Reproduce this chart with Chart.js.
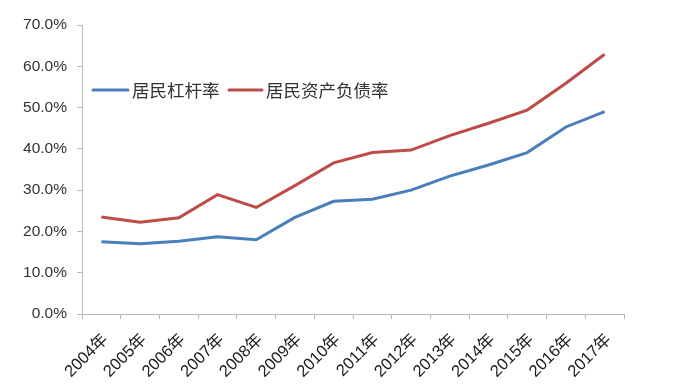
<!DOCTYPE html>
<html>
<head>
<meta charset="utf-8">
<script src="https://cdn.jsdelivr.net/npm/chart.js@4/dist/chart.umd.min.js"></script>
<style>
html,body{margin:0;padding:0;background:#fff;}
#wrap{width:690px;height:392px;position:relative;}
</style>
</head>
<body>
<div id="wrap"><canvas id="c" width="690" height="392"></canvas></div>
<script>
const years = ['2004年','2005年','2006年','2007年','2008年','2009年','2010年','2011年','2012年','2013年','2014年','2015年','2016年','2017年'];
const leverage = [17.5, 17.0, 17.6, 18.7, 18.0, 23.4, 27.3, 27.8, 30.0, 33.4, 36.1, 39.1, 45.3, 49.0];
const debtRatio = [23.5, 22.2, 23.3, 28.9, 25.8, 31.1, 36.6, 39.1, 39.7, 43.2, 46.2, 49.4, 55.9, 62.9];
const seriesNames = ['居民杠杆率','居民资产负债率'];
const yTicks = [0,10,20,30,40,50,60,70];

const legendPlugin = {
  id: 'inlineLegend',
  afterDraw(chart) {
    const ctx = chart.ctx;
    const items = [
      {x1: 93, x2: 128, tx: 132},
      {x1: 229, x2: 262, tx: 266}
    ];
    const y = 90;
    ctx.save();
    chart.data.datasets.forEach((ds, i) => {
      const it = items[i];
      ctx.strokeStyle = ds.borderColor;
      ctx.lineWidth = 3;
      ctx.lineCap = 'round';
      ctx.beginPath();
      ctx.moveTo(it.x1, y);
      ctx.lineTo(it.x2, y);
      ctx.stroke();
      ctx.fillStyle = '#333333';
      ctx.font = '17.5px "Noto Sans CJK SC"';
      ctx.textBaseline = 'middle';
      ctx.textAlign = 'left';
      ctx.fillText(ds.label, it.tx, y);
    });
    ctx.restore();
  }
};

new Chart(document.getElementById('c'), {
  type: 'line',
  data: {
    labels: years,
    datasets: [
      {label: seriesNames[0], data: leverage, borderColor: '#4a7ebb', borderWidth: 3, pointRadius: 0, tension: 0, fill: false},
      {label: seriesNames[1], data: debtRatio, borderColor: '#be4b48', borderWidth: 3, pointRadius: 0, tension: 0, fill: false}
    ]
  },
  options: {
    responsive: false,
    animation: false,
    layout: {padding: {top: 25, right: 66, left: 0, bottom: 0}},
    plugins: {legend: {display: false}, tooltip: {enabled: false}},
    scales: {
      x: {
        offset: true,
        grid: {offset: true, drawOnChartArea: false, color: '#b8b8b8', tickLength: 5, lineWidth: 1},
        border: {color: '#b8b8b8', width: 1},
        ticks: {
          minRotation: 45, maxRotation: 45, autoSkip: false,
          color: '#1a1a1a',
          font: {family: '"Liberation Sans", "Noto Sans CJK SC"', size: 16.5},
          padding: 11,
          labelOffset: 4
        },
        afterFit(scale) { scale.height = 78; }
      },
      y: {
        min: 0, max: 70,
        afterBuildTicks(scale) { scale.ticks = yTicks.map(v => ({value: v})); },
        grid: {drawOnChartArea: false, color: '#b8b8b8', tickLength: 5, lineWidth: 1},
        border: {color: '#b8b8b8', width: 1},
        ticks: {
          color: '#333333',
          font: {family: '"Liberation Sans"', size: 15.5},
          padding: 10,
          callback: v => v.toFixed(1) + '%'
        },
        afterFit(scale) { scale.width = 82; }
      }
    }
  },
  plugins: [legendPlugin]
});
</script>
</body>
</html>
